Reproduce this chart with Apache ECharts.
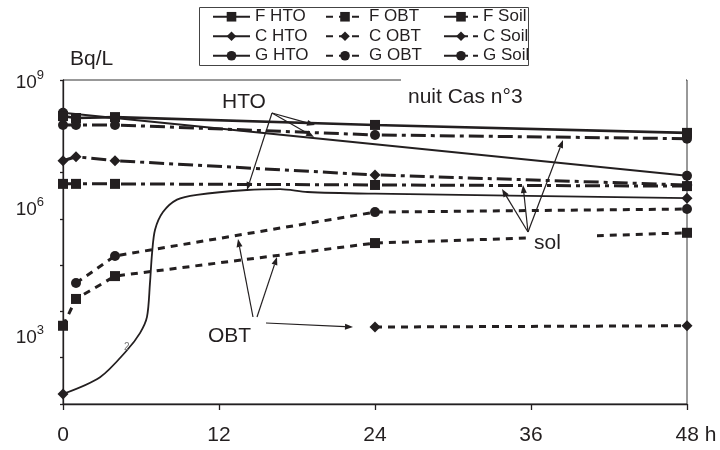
<!DOCTYPE html>
<html><head><meta charset="utf-8">
<script src="https://cdn.jsdelivr.net/npm/echarts@6/dist/echarts.min.js"></script>
<style>html,body{margin:0;padding:0;background:#fff}#c{width:720px;height:450px}</style>
</head><body><div id="c"></div>
<script>
// ---- data ----
const hours = [0, 1, 4, 24, 48];
const fHTO = [1.66e8, 1.51e8, 1.58e8, 1.07e8, 7.2e7];
const gHTOHours = [0, 48];
const gHTO = [1.95e8, 8.5e6];
const cHTOHours = [0, 2.85, 4.92, 5.92, 6.46, 6.69, 6.85, 7.08, 7.69, 8.77, 10.3, 14.15, 16.7, 18.8, 24, 48];
const cHTO = [165, 380, 1450, 3400, 7600, 4.1e4, 1.8e5, 5.8e5, 1.4e6, 2.6e6, 3.3e6, 4.2e6, 4.4e6, 3.8e6, 3.5e6, 2.8e6];
const cHTOMeasured = [0, 48];
const fOBT = [4.9e3, 1.86e4, 5.8e4, 3.0e5, 5.0e5];
const gOBTHours = [1, 4, 24, 48];
const gOBT = [4.1e4, 1.58e5, 1.4e6, 1.63e6];
const cOBTHours = [24, 48];
const cOBT = [4.6e3, 4.9e3];
const fSoil = [5.7e6, 5.7e6, 5.7e6, 5.4e6, 5.1e6];
const cSoil = [1.8e7, 2.2e7, 1.8e7, 8.9e6, 5.4e6];
const gSoil = [1.07e8, 1.07e8, 1.07e8, 6.5e7, 5.4e7];
const yLabelledExponents = [3, 6, 9];
const legendHTO = ['F HTO', 'C HTO', 'G HTO'];
const legendOBT = ['F OBT', 'C OBT', 'G OBT'];
const legendSoil = ['F Soil', 'C Soil', 'G Soil'];

// ---- styling ----
const K = '#231f20';
const FONT = '"Liberation Sans", Arial, sans-serif';
const OBT_DASH = [7, 6];
const SOIL_DASH = [15, 5, 4, 5];

function mk(name, xs, ys, symbol, dash, width, z) {
  return {
    name, type: 'line', z: z || 2,
    data: xs.map((x, i) => [x, ys[i]]),
    symbol, symbolSize: symbol === 'diamond' ? [11, 11] : 10,
    showAllSymbol: true,
    lineStyle: { color: K, width, type: dash },
    itemStyle: { color: K },
    emphasis: { disabled: true },
    animation: false
  };
}

const cHTOSeries = mk('C HTO', cHTOHours, cHTO, 'diamond', 'solid', 1.8);
cHTOSeries.data = cHTOHours.map((x, i) => ({
  value: [x, cHTO[i]],
  symbol: cHTOMeasured.includes(x) ? 'diamond' : 'none'
}));
cHTOSeries.smooth = 0.3;

const series = [
  mk('F HTO', hours, fHTO, 'rect', 'solid', 2.6, 3),
  cHTOSeries,
  mk('G HTO', gHTOHours, gHTO, 'circle', 'solid', 2),
  mk('F OBT', hours, fOBT, 'rect', OBT_DASH, 3),
  mk('C OBT', cOBTHours, cOBT, 'diamond', OBT_DASH, 3),
  mk('G OBT', gOBTHours, gOBT, 'circle', OBT_DASH, 3),
  mk('F Soil', hours, fSoil, 'rect', SOIL_DASH, 3),
  mk('C Soil', hours, cSoil, 'diamond', SOIL_DASH, 3),
  mk('G Soil', hours, gSoil, 'circle', SOIL_DASH, 3)
];

// ---- annotation layout (pixels) ----
const arrows = [
  [272, 113, 315, 125], [272, 113, 314, 137], [272, 113, 247, 190],
  [528, 232, 502, 189], [528, 232, 523, 185], [528, 232, 563, 140],
  [253, 317, 238, 239], [257, 317, 277, 257], [266, 323, 353, 327]
];
function arrow(a) {
  const [x1, y1, x2, y2] = a;
  const ang = Math.atan2(y2 - y1, x2 - x1);
  const L = 8, W = 3;
  const bx = x2 - L * Math.cos(ang), by = y2 - L * Math.sin(ang);
  const px = -Math.sin(ang) * W, py = Math.cos(ang) * W;
  return [
    { type: 'line', z: 120, shape: { x1, y1, x2: bx, y2: by }, style: { stroke: K, lineWidth: 1.2 } },
    { type: 'polygon', z: 120, shape: { points: [[x2, y2], [bx + px, by + py], [bx - px, by - py]] }, style: { fill: K } }
  ];
}
function txt(text, x, y, size, extra) {
  return Object.assign({ type: 'text', z: 110, x, y,
    style: Object.assign({ text, fill: K, font: `${size}px ${FONT}`, textVerticalAlign: 'middle' }, extra || {}) });
}

const graphics = [
  { type: 'rect', z: 105, shape: { x: 401, y: 76, width: 285, height: 8 }, style: { fill: '#fff' } },
  { type: 'rect', z: 105, shape: { x: 530, y: 234, width: 67, height: 18 }, style: { fill: '#fff' } },
  { type: 'rect', z: 90, shape: { x: 199.5, y: 7.5, width: 329, height: 58 }, style: { fill: 'none', stroke: '#444', lineWidth: 1 } },
  txt('Bq/L', 70, 59, 21),
  txt('nuit Cas n°3', 408, 97, 21),
  txt('HTO', 222, 102, 21),
  txt('sol', 534, 243, 21),
  txt('OBT', 208, 336, 21),
  txt('2', 124, 347, 10, { fill: '#777' })
];
arrows.forEach(a => graphics.push(...arrow(a)));

function legendCol(data, left, itemWidth) {
  return {
    data, left, top: 7, orient: 'vertical', itemWidth, itemHeight: 12, itemGap: 0,
    padding: 0, selectedMode: false,
    textStyle: { color: K, fontSize: 17, fontFamily: FONT, lineHeight: 19.5 }
  };
}

const chart = echarts.init(document.getElementById('c'), null, { renderer: 'canvas' });
chart.setOption({
  backgroundColor: '#fff',
  animation: false,
  grid: { left: 63, right: 33, top: 80, bottom: 46, show: true, borderColor: '#333', borderWidth: 1 },
  legend: [legendCol(legendHTO, 212, 37), legendCol(legendOBT, 325, 38), legendCol(legendSoil, 443, 34)],
  xAxis: {
    type: 'value', min: 0, max: 48, interval: 12,
    axisLine: { show: true, lineStyle: { color: K, width: 1.3 } },
    axisTick: { show: true, inside: false, length: 6, lineStyle: { color: K, width: 1.3 } },
    splitLine: { show: false },
    axisLabel: {
      margin: 21, color: K, fontSize: 21, fontFamily: FONT,
      formatter: v => v === 48 ? '{h|48 h}' : String(v),
      rich: { h: { fontSize: 21, fontFamily: FONT, color: K, padding: [0, 0, 0, 18] } }
    }
  },
  yAxis: {
    type: 'log', logBase: 10, min: 100, max: 1e9,
    axisLine: { show: true, lineStyle: { color: K, width: 1.3 } },
    axisTick: { show: true, length: 3, lineStyle: { color: K, width: 1.3 } },
    splitLine: { show: false },
    minorTick: { show: false },
    axisLabel: {
      margin: 19, color: K, fontFamily: FONT,
      formatter: v => {
        const e = Math.round(Math.log10(v));
        if (!yLabelledExponents.includes(e)) return '';
        const base = `{b|10}{s|${e}}`;
        if (e === 3) return base + '\n{g40| }';
        if (e === 6) return base + '\n{g18| }';
        return '{g6| }\n' + base;
      },
      rich: {
        b: { fontSize: 19, lineHeight: 28, fontFamily: FONT, color: K },
        s: { fontSize: 13, lineHeight: 14, verticalAlign: 'top', fontFamily: FONT, color: K },
        g40: { fontSize: 1, lineHeight: 40 },
        g18: { fontSize: 1, lineHeight: 18 },
        g6: { fontSize: 1, lineHeight: 6 }
      }
    }
  },
  series,
  graphic: graphics
});
</script>
</body></html>
